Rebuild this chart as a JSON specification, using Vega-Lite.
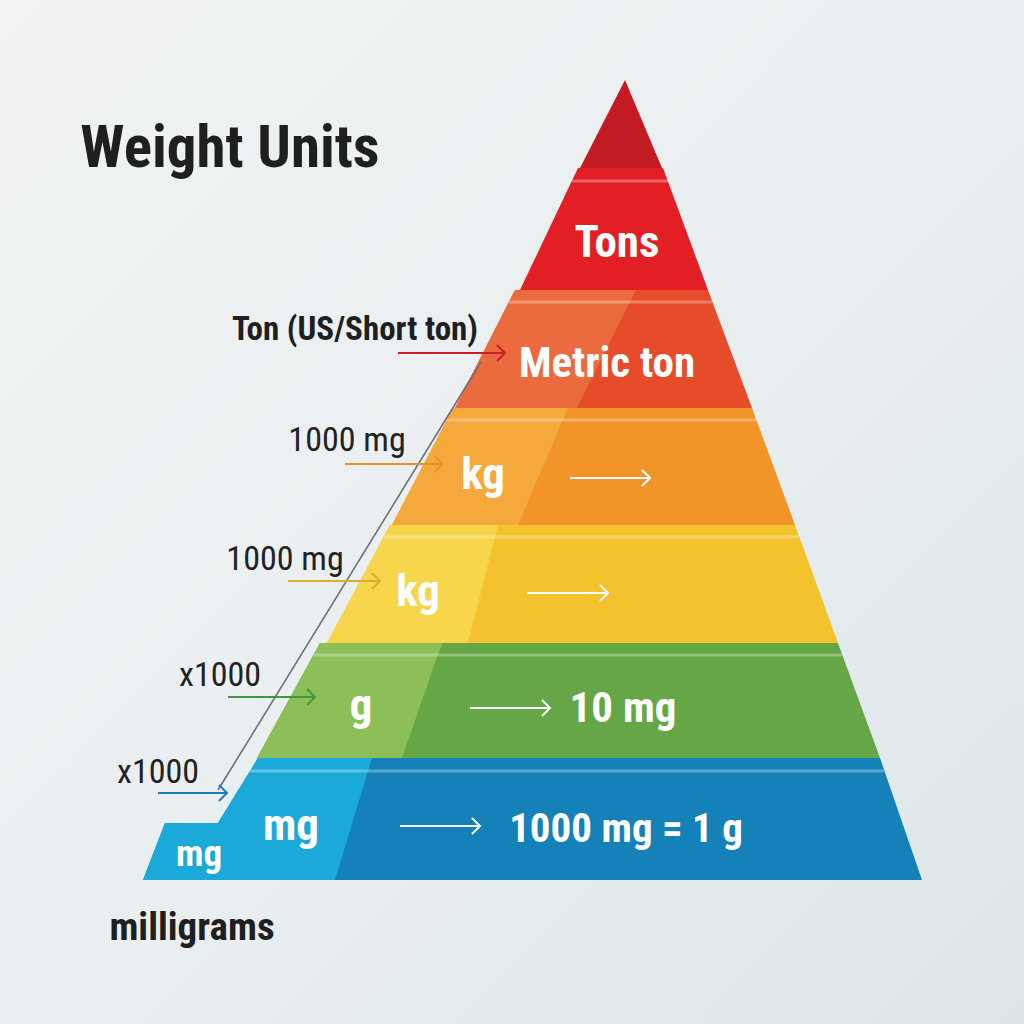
{
  "$schema": "https://vega.github.io/schema/vega-lite/v6.json",
  "width": 1024,
  "height": 1024,
  "autosize": {"type": "fit", "contains": "padding"},
  "padding": 0,
  "background": "#edf1f3",
  "config": {"view": {"stroke": null}, "text": {"font": "Roboto Condensed, Roboto, sans-serif", "align": "center", "baseline": "alphabetic"}},
  "datasets": {
    "backdrop": [
      {"xa": 0, "xb": 1024, "ya": 0, "yb": 1024}
    ],
    "shapes": [
      {"shape": "apex", "tone": "dark", "xa": 580, "ya": 168, "yb": 168},
      {"shape": "apex", "tone": "dark", "xa": 625, "ya": 80, "yb": 168},
      {"shape": "apex", "tone": "dark", "xa": 662, "ya": 168, "yb": 168},
      {"shape": "tons", "tone": "dark", "xa": 520, "ya": 290, "yb": 290},
      {"shape": "tons", "tone": "dark", "xa": 578, "ya": 168, "yb": 290},
      {"shape": "tons", "tone": "dark", "xa": 663, "ya": 168, "yb": 290},
      {"shape": "tons", "tone": "dark", "xa": 708, "ya": 290, "yb": 290},
      {"shape": "metric", "tone": "dark", "xa": 455, "ya": 408, "yb": 408},
      {"shape": "metric", "tone": "dark", "xa": 515, "ya": 290, "yb": 408},
      {"shape": "metric", "tone": "dark", "xa": 708, "ya": 290, "yb": 408},
      {"shape": "metric", "tone": "dark", "xa": 752, "ya": 408, "yb": 408},
      {"shape": "orange", "tone": "dark", "xa": 392, "ya": 525, "yb": 525},
      {"shape": "orange", "tone": "dark", "xa": 453, "ya": 408, "yb": 525},
      {"shape": "orange", "tone": "dark", "xa": 752, "ya": 408, "yb": 525},
      {"shape": "orange", "tone": "dark", "xa": 795, "ya": 525, "yb": 525},
      {"shape": "yellow", "tone": "dark", "xa": 327, "ya": 643, "yb": 643},
      {"shape": "yellow", "tone": "dark", "xa": 390, "ya": 525, "yb": 643},
      {"shape": "yellow", "tone": "dark", "xa": 795, "ya": 525, "yb": 643},
      {"shape": "yellow", "tone": "dark", "xa": 838, "ya": 643, "yb": 643},
      {"shape": "green", "tone": "dark", "xa": 257, "ya": 758, "yb": 758},
      {"shape": "green", "tone": "dark", "xa": 320, "ya": 643, "yb": 758},
      {"shape": "green", "tone": "dark", "xa": 838, "ya": 643, "yb": 758},
      {"shape": "green", "tone": "dark", "xa": 880, "ya": 758, "yb": 758},
      {"shape": "blue", "tone": "dark", "xa": 143, "ya": 880, "yb": 880},
      {"shape": "blue", "tone": "dark", "xa": 165, "ya": 823, "yb": 880},
      {"shape": "blue", "tone": "dark", "xa": 218, "ya": 823, "yb": 880},
      {"shape": "blue", "tone": "dark", "xa": 258, "ya": 758, "yb": 880},
      {"shape": "blue", "tone": "dark", "xa": 880, "ya": 758, "yb": 880},
      {"shape": "blue", "tone": "dark", "xa": 922, "ya": 880, "yb": 880},
      {"shape": "metricL", "tone": "light", "xa": 455, "ya": 408, "yb": 408},
      {"shape": "metricL", "tone": "light", "xa": 515, "ya": 290, "yb": 408},
      {"shape": "metricL", "tone": "light", "xa": 577, "ya": 290, "yb": 408},
      {"shape": "metricL", "tone": "light", "xa": 636, "ya": 290, "yb": 290},
      {"shape": "orangeL", "tone": "light", "xa": 392, "ya": 525, "yb": 525},
      {"shape": "orangeL", "tone": "light", "xa": 453, "ya": 408, "yb": 525},
      {"shape": "orangeL", "tone": "light", "xa": 518, "ya": 408, "yb": 525},
      {"shape": "orangeL", "tone": "light", "xa": 568, "ya": 408, "yb": 408},
      {"shape": "yellowL", "tone": "light", "xa": 327, "ya": 643, "yb": 643},
      {"shape": "yellowL", "tone": "light", "xa": 390, "ya": 525, "yb": 643},
      {"shape": "yellowL", "tone": "light", "xa": 468, "ya": 525, "yb": 643},
      {"shape": "yellowL", "tone": "light", "xa": 498, "ya": 525, "yb": 525},
      {"shape": "greenL", "tone": "light", "xa": 257, "ya": 758, "yb": 758},
      {"shape": "greenL", "tone": "light", "xa": 320, "ya": 643, "yb": 758},
      {"shape": "greenL", "tone": "light", "xa": 402, "ya": 643, "yb": 758},
      {"shape": "greenL", "tone": "light", "xa": 442, "ya": 643, "yb": 643},
      {"shape": "blueL", "tone": "light", "xa": 143, "ya": 880, "yb": 880},
      {"shape": "blueL", "tone": "light", "xa": 165, "ya": 823, "yb": 880},
      {"shape": "blueL", "tone": "light", "xa": 218, "ya": 823, "yb": 880},
      {"shape": "blueL", "tone": "light", "xa": 258, "ya": 758, "yb": 880},
      {"shape": "blueL", "tone": "light", "xa": 335, "ya": 758, "yb": 880},
      {"shape": "blueL", "tone": "light", "xa": 372, "ya": 758, "yb": 758}
    ],
    "strips": [
      {"band": "tons", "ya": 181, "xa": 572, "xb": 668},
      {"band": "metric", "ya": 302, "xa": 509, "xb": 712},
      {"band": "orange", "ya": 420, "xa": 447, "xb": 756},
      {"band": "yellow", "ya": 537, "xa": 384, "xb": 799},
      {"band": "green", "ya": 655, "xa": 314, "xb": 842},
      {"band": "blue", "ya": 771, "xa": 250, "xb": 884}
    ],
    "guide": [
      {"xa": 481, "ya": 362, "xb": 218, "yb": 790}
    ],
    "arrows": [
      {"arrow": "ton", "xa": 398, "xb": 505, "ya": 353},
      {"arrow": "kg1", "xa": 345, "xb": 443, "ya": 464},
      {"arrow": "kg2", "xa": 288, "xb": 380, "ya": 581},
      {"arrow": "g", "xa": 228, "xb": 315, "ya": 697},
      {"arrow": "mg", "xa": 158, "xb": 227, "ya": 793},
      {"arrow": "in_kg1", "xa": 570, "xb": 650, "ya": 478},
      {"arrow": "in_kg2", "xa": 527, "xb": 608, "ya": 593},
      {"arrow": "in_g", "xa": 470, "xb": 550, "ya": 708},
      {"arrow": "in_mg", "xa": 400, "xb": 480, "ya": 826}
    ],
    "labels": [
      {"label": "Tons", "role": "unit", "xa": 617, "ya": 257},
      {"label": "Metric ton", "role": "phrase", "xa": 607, "ya": 377},
      {"label": "kg", "role": "unit", "xa": 483, "ya": 489},
      {"label": "kg", "role": "unit", "xa": 418, "ya": 606},
      {"label": "g", "role": "unit", "xa": 361, "ya": 720},
      {"label": "mg", "role": "unit", "xa": 291, "ya": 840},
      {"label": "mg", "role": "small", "xa": 199, "ya": 866},
      {"label": "10 mg", "role": "phrase", "xa": 623, "ya": 722},
      {"label": "1000 mg = 1 g", "role": "eq", "xa": 626, "ya": 842},
      {"label": "Weight Units", "role": "title", "xa": 230, "ya": 167},
      {"label": "Ton (US/Short ton)", "role": "note", "xa": 355, "ya": 340},
      {"label": "milligrams", "role": "caption", "xa": 192, "ya": 940},
      {"label": "1000 mg", "role": "factor", "xa": 347, "ya": 451},
      {"label": "1000 mg", "role": "factor", "xa": 285, "ya": 570},
      {"label": "x1000", "role": "factor", "xa": 220, "ya": 686},
      {"label": "x1000", "role": "factor", "xa": 158, "ya": 783}
    ]
  },
  "layer": [
    {
      "data": {"name": "backdrop"},
      "mark": {
        "type": "rect",
        "color": {
          "gradient": "linear", "x1": 0, "y1": 0, "x2": 1, "y2": 1,
          "stops": [
            {"offset": 0, "color": "#f1f3f4"},
            {"offset": 0.55, "color": "#e9eef0"},
            {"offset": 1, "color": "#dbe5e8"}
          ]
        }
      },
      "encoding": {
        "x": {"field": "xa", "type": "quantitative", "axis": null, "scale": {"domain": [0, 1024], "nice": false, "zero": false}},
        "x2": {"field": "xb"},
        "y": {"field": "ya", "type": "quantitative", "axis": null, "scale": {"domain": [0, 1024], "reverse": true, "nice": false, "zero": false}},
        "y2": {"field": "yb"}
      }
    },
    {
      "data": {"name": "shapes"},
      "transform": [{"filter": "datum.tone == 'dark'"}],
      "mark": {"type": "area", "interpolate": "linear"},
      "encoding": {
        "x": {"field": "xa", "type": "quantitative", "axis": null},
        "y": {"field": "ya", "type": "quantitative", "axis": null, "stack": null},
        "y2": {"field": "yb"},
        "detail": {"field": "shape"},
        "fill": {
          "field": "shape", "type": "nominal", "legend": null,
          "scale": {
            "domain": ["apex", "tons", "metric", "metricL", "orange", "orangeL", "yellow", "yellowL", "green", "greenL", "blue", "blueL"],
            "range": ["#c31b23", "#e31f26", "#e64c29", "#eb6b3e", "#f29427", "#f5a93d", "#f4c22c", "#f8d64b", "#65a646", "#8cbf57", "#1481b8", "#1aa9d9"]
          }
        }
      }
    },
    {
      "data": {"name": "shapes"},
      "transform": [{"filter": "datum.tone == 'light'"}],
      "mark": {"type": "area", "interpolate": "linear"},
      "encoding": {
        "x": {"field": "xa", "type": "quantitative", "axis": null},
        "y": {"field": "ya", "type": "quantitative", "axis": null, "stack": null},
        "y2": {"field": "yb"},
        "detail": {"field": "shape"},
        "fill": {"field": "shape", "type": "nominal", "legend": null}
      }
    },
    {
      "data": {"name": "strips"},
      "mark": {"type": "rule", "color": "#ffffff", "opacity": 0.3, "strokeWidth": 3},
      "encoding": {
        "y": {"field": "ya", "type": "quantitative", "axis": null},
        "x": {"field": "xa", "type": "quantitative", "axis": null},
        "x2": {"field": "xb"}
      }
    },
    {
      "data": {"name": "guide"},
      "mark": {"type": "rule", "color": "#6c7175", "strokeWidth": 1.6},
      "encoding": {
        "x": {"field": "xa", "type": "quantitative", "axis": null},
        "y": {"field": "ya", "type": "quantitative", "axis": null},
        "x2": {"field": "xb"},
        "y2": {"field": "yb"}
      }
    },
    {
      "data": {"name": "arrows"},
      "mark": {"type": "rule", "strokeWidth": 2},
      "encoding": {
        "y": {"field": "ya", "type": "quantitative", "axis": null},
        "x": {"field": "xa", "type": "quantitative", "axis": null},
        "x2": {"field": "xb"},
        "stroke": {
          "field": "arrow", "type": "nominal", "legend": null,
          "scale": {
            "domain": ["ton", "kg1", "kg2", "g", "mg", "in_kg1", "in_kg2", "in_g", "in_mg"],
            "range": ["#c8202a", "#e8922c", "#dcae2c", "#3f983f", "#1f7db2", "#ffffff", "#ffffff", "#ffffff", "#ffffff"]
          }
        }
      }
    },
    {
      "data": {"name": "arrows"},
      "mark": {"type": "point", "shape": "M-1,-1L0,0L-1,1", "filled": false, "size": 260, "strokeWidth": 2, "opacity": 1},
      "encoding": {
        "y": {"field": "ya", "type": "quantitative", "axis": null},
        "x": {"field": "xb", "type": "quantitative", "axis": null},
        "stroke": {"field": "arrow", "type": "nominal", "legend": null}
      }
    },
    {
      "data": {"name": "labels"},
      "transform": [{"filter": "datum.role == 'unit'"}],
      "mark": {"type": "text", "fontWeight": "bold", "color": "#ffffff", "fontSize": 45},
      "encoding": {
        "y": {"field": "ya", "type": "quantitative", "axis": null},
        "x": {"field": "xa", "type": "quantitative", "axis": null},
        "text": {"field": "label"}
      }
    },
    {
      "data": {"name": "labels"},
      "transform": [{"filter": "datum.role == 'phrase'"}],
      "mark": {"type": "text", "fontWeight": "bold", "color": "#ffffff", "fontSize": 43},
      "encoding": {
        "y": {"field": "ya", "type": "quantitative", "axis": null},
        "x": {"field": "xa", "type": "quantitative", "axis": null},
        "text": {"field": "label"}
      }
    },
    {
      "data": {"name": "labels"},
      "transform": [{"filter": "datum.role == 'eq'"}],
      "mark": {"type": "text", "fontWeight": "bold", "color": "#ffffff", "fontSize": 41},
      "encoding": {
        "y": {"field": "ya", "type": "quantitative", "axis": null},
        "x": {"field": "xa", "type": "quantitative", "axis": null},
        "text": {"field": "label"}
      }
    },
    {
      "data": {"name": "labels"},
      "transform": [{"filter": "datum.role == 'small'"}],
      "mark": {"type": "text", "fontWeight": "bold", "color": "#ffffff", "fontSize": 37},
      "encoding": {
        "y": {"field": "ya", "type": "quantitative", "axis": null},
        "x": {"field": "xa", "type": "quantitative", "axis": null},
        "text": {"field": "label"}
      }
    },
    {
      "data": {"name": "labels"},
      "transform": [{"filter": "datum.role == 'title'"}],
      "mark": {"type": "text", "fontWeight": "bold", "color": "#1f1f1f", "fontSize": 59},
      "encoding": {
        "y": {"field": "ya", "type": "quantitative", "axis": null},
        "x": {"field": "xa", "type": "quantitative", "axis": null},
        "text": {"field": "label"}
      }
    },
    {
      "data": {"name": "labels"},
      "transform": [{"filter": "datum.role == 'note'"}],
      "mark": {"type": "text", "fontWeight": "bold", "color": "#1f1f1f", "fontSize": 33},
      "encoding": {
        "y": {"field": "ya", "type": "quantitative", "axis": null},
        "x": {"field": "xa", "type": "quantitative", "axis": null},
        "text": {"field": "label"}
      }
    },
    {
      "data": {"name": "labels"},
      "transform": [{"filter": "datum.role == 'caption'"}],
      "mark": {"type": "text", "fontWeight": "bold", "color": "#1f1f1f", "fontSize": 39},
      "encoding": {
        "y": {"field": "ya", "type": "quantitative", "axis": null},
        "x": {"field": "xa", "type": "quantitative", "axis": null},
        "text": {"field": "label"}
      }
    },
    {
      "data": {"name": "labels"},
      "transform": [{"filter": "datum.role == 'factor'"}],
      "mark": {"type": "text", "fontWeight": "normal", "color": "#222222", "fontSize": 34},
      "encoding": {
        "y": {"field": "ya", "type": "quantitative", "axis": null},
        "x": {"field": "xa", "type": "quantitative", "axis": null},
        "text": {"field": "label"}
      }
    }
  ]
}
